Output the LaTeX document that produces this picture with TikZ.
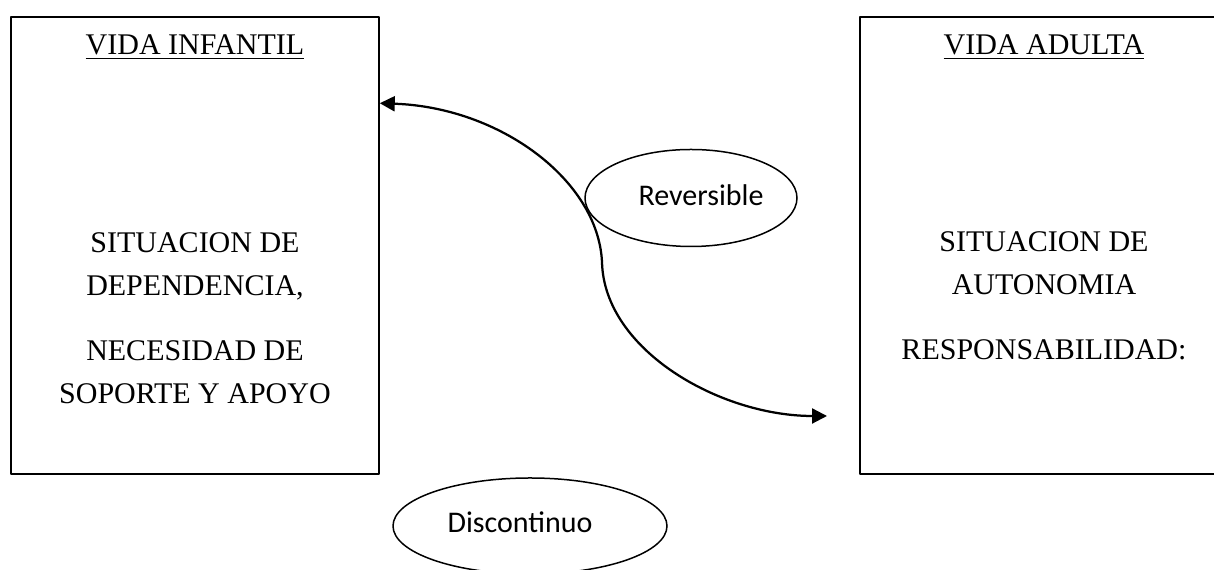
\documentclass[tikz,border=0pt]{standalone}
\usepackage{fontspec}
\setmainfont{Liberation Serif}
\newfontfamily\calibri{Carlito}
\usetikzlibrary{arrows.meta,shapes.geometric}

\begin{document}
\begin{tikzpicture}[x=0.4pt,y=-0.4pt,line cap=round,line join=round,
	caja/.style={draw,line width=0.6pt,minimum width=147.2pt,minimum height=182.8pt,inner sep=0pt},
	texto/.style={align=center,inner sep=0pt,font=\fontsize{12}{17.2}\selectfont},
	globo/.style={draw,ellipse,line width=0.6pt,inner sep=0pt,font=\calibri\fontsize{12}{14}\selectfont},
	>={Triangle[length=6pt,width=6pt]}]
	\useasboundingbox (0,0) rectangle (1214,570);
	\clip (0,0) rectangle (1214,570);
	\node[caja] (infantil) at (195,245.5) {};
	\node[caja] (adulta) at (1044,245.5) {};
	\node[texto,anchor=base] (tinfantil) at (195,55) {\underline{VIDA INFANTIL}};
	\node[texto,anchor=base] (tadulta) at (1044,55) {\underline{VIDA ADULTA}};
	\node[texto] (dependencia) at (195,318) {SITUACION DE\\DEPENDENCIA,\\[8.8pt]NECESIDAD DE\\SOPORTE Y APOYO};
	\node[texto] (autonomia) at (1044,296) {SITUACION DE\\AUTONOMIA\\[8.8pt]RESPONSABILIDAD:};
	\node[globo,minimum width=84.8pt,minimum height=38.8pt] (reversible) at (691,198) {\kern8pt\raisebox{2pt}{Reversible}};
	\node[globo,minimum width=109.6pt,minimum height=38.4pt] (discontinuo) at (530,526) {\raisebox{3pt}{Discontinuo}\kern8pt};
	\path (infantil.north east) ++(0,87) coordinate (inicio);
	\coordinate (medio) at (602,262);
	\coordinate (fin) at (827,416);
	\draw[<->,line width=0.9pt] (inicio) .. controls +(120,4) and +(-4,-82) .. (medio)
		.. controls +(2,88) and +(-107,0) .. (fin);
\end{tikzpicture}
\end{document}
